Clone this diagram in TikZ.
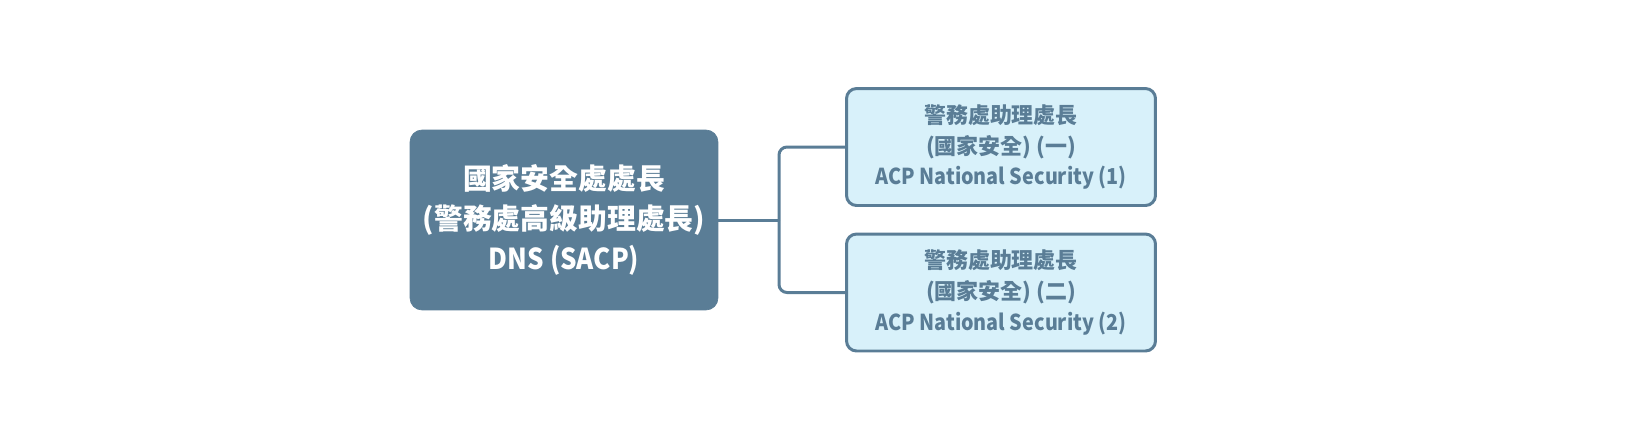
\documentclass[tikz,border=0pt]{standalone}
\usepackage{fontspec}
\setmainfont{Noto Sans CJK TC}
\newfontfamily\narrowlatin{Noto Sans CJK TC}[FakeStretch=0.9]
\definecolor{slate}{HTML}{5A7D96}
\definecolor{paleblue}{HTML}{D8F1FA}

\begin{document}
\begin{tikzpicture}[x=0.02cm, y=-0.02cm]
  \tikzstyle{headbox}=[rectangle, rounded corners=0.24cm, fill=slate, draw=slate,
    minimum width=6.16cm, minimum height=3.6cm, inner sep=0pt, align=center,
    text=white, font=\bfseries\fontsize{16.4}{22.7}\selectfont]
  \tikzstyle{subbox}=[rectangle, rounded corners=0.2cm, fill=paleblue, draw=slate,
    line width=1.7pt, minimum width=6.18cm, minimum height=2.34cm, inner sep=0pt,
    align=center, text=slate, font=\bfseries\fontsize{12.5}{17.6}\selectfont]
  \tikzstyle{link}=[draw=slate, line width=1.7pt, rounded corners=0.16cm]

  \useasboundingbox (0, 0) rectangle (1632, 424);

  \path
    (564, 220) node[headbox] (dns)
      {國家安全處處長\\(警務處高級助理處長)\\{\narrowlatin\bfseries DNS (SACP)}}
    (1001, 147) node[subbox] (acp1)
      {警務處助理處長\\(國家安全) (一)\\{\narrowlatin\bfseries ACP National Security (1)}}
    (1001, 292.5) node[subbox] (acp2)
      {警務處助理處長\\(國家安全) (二)\\{\narrowlatin\bfseries ACP National Security (2)}};

  \coordinate (fork) at (779, 220);

  \path[link] (dns.east) -- (fork);
  \foreach \t in {acp1,acp2}
    \path[link] (fork) |- (\t.west);

\end{tikzpicture}
\end{document}
